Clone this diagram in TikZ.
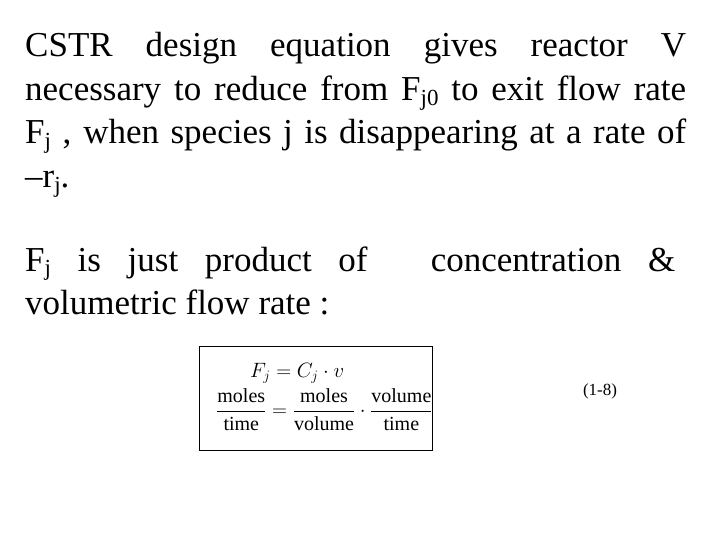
\documentclass[tikz,border=0pt]{standalone}
\usepackage{amsmath}
\usepackage{fontspec}
\setmainfont{Liberation Serif}
\newcommand{\sub}[1]{\raisebox{-0.3ex}{\fontsize{23}{25}\selectfont #1}}
\begin{document}
\begin{tikzpicture}[x=1pt,y=-1pt,
  line/.style={anchor=base west,inner sep=0pt,font=\fontsize{35}{40}\selectfont},
  eq/.style={inner sep=0pt,font=\fontsize{20}{22}\selectfont}]
\useasboundingbox (0,0) rectangle (720,540);
\node[line] (l1) at (25,57) {\makebox[661pt][s]{CSTR design equation gives reactor V}};
\node[line] (l2) at (25,101) {\makebox[661pt][s]{necessary to reduce from F\sub{j0} to exit flow rate}};
\node[line] (l3) at (25,144) {\makebox[661pt][s]{F\sub{j} , when species j is disappearing at a rate of}};
\node[line] (l4) at (25,188) {–r\sub{j}.};
\node[line] (l5) at (25,271) {\makebox[650pt][s]{F\sub{j} is just product of \hspace{10pt} concentration \&}};
\node[line] (l6) at (25,314) {volumetric flow rate :};
\draw[line width=1pt] (199,346) rectangle (432,450);
\node[eq,anchor=base west] (e1) at (250,377) {$F_j = C_j\cdot v$};
\node[eq,anchor=west] (e2) at (216,410) {$\dfrac{\mathrm{moles}}{\mathrm{time}} = \dfrac{\mathrm{moles}}{\mathrm{volume}}\cdot\dfrac{\mathrm{volume}}{\mathrm{time}}$};
\node[eq,font=\fontsize{17}{19}\selectfont] (n) at (600,391) {(1-8)};
\end{tikzpicture}
\end{document}
